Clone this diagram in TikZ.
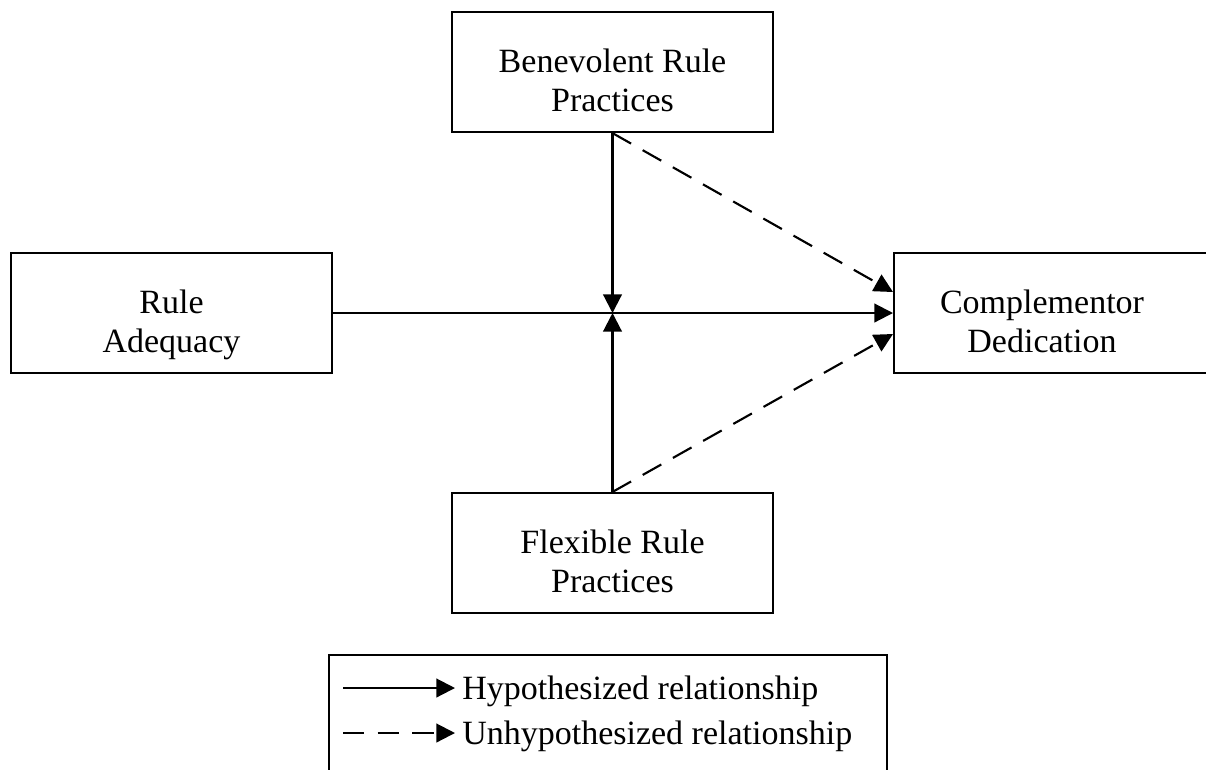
\documentclass[tikz,border=0pt]{standalone}
\usepackage{fontspec}
\setmainfont{Liberation Serif}
\usetikzlibrary{arrows.meta}
% two-line box text, set slightly below the box centre (extra room above)
\newcommand\boxlines[1]{\raisebox{0pt}[\dimexpr\height+18pt\relax][\depth]{\begin{tabular}{@{}c@{}}#1\end{tabular}}}
\tikzset{
  box/.style={draw, line width=1.6pt, rectangle, minimum width=240.75pt, minimum height=90pt,
    align=center, inner sep=0pt, font=\fontsize{25.5}{29.5}\selectfont},
  txt/.style={align=center, inner sep=0pt, font=\fontsize{25.5}{29.5}\selectfont},
  link/.style={line width=1.6pt, -{Triangle[length=14pt,width=14pt]}},
  dashlink/.style={link, dash pattern=on 16pt off 10pt},
}
\begin{document}
\begin{tikzpicture}[x=0.75pt,y=-0.75pt]
\useasboundingbox (0,0) rectangle (1206,769);
\clip (0,0) rectangle (1206,769);
% constructs
\node[box] (ben) at (612.5,72) {\boxlines{Benevolent Rule\\Practices}};
\node[box] (flex) at (612.5,553) {\boxlines{Flexible Rule\\Practices}};
\node[box] (ra) at (171.5,313) {\boxlines{Rule\\Adequacy}};
\node[box, minimum width=252.75pt, anchor=west] (comp) at (893,313) {};
\node[txt] (comptext) at (1042,313) {\boxlines{Complementor\\Dedication}};
\coordinate (mid) at (ben.south |- ra.east);
% hypothesized paths
\draw[link] (ra.east) -- (comp.west);
\draw[link] (ben.south) -- (mid);
\draw[link] (flex.north) -- (mid);
% unhypothesized paths
\draw[dashlink] (ben.south) -- ([yshift=15.75pt]comp.west);
\draw[dashlink] (flex.north) -- ([yshift=-15.75pt]comp.west);
% legend
\node[draw, line width=1.6pt, minimum width=418.5pt, minimum height=105pt, anchor=north west, inner sep=0pt] (legend) at (328,654) {};
\coordinate (l1a) at (343,688);
\coordinate (l1b) at (455,688);
\coordinate (l2a) at (343,733);
\coordinate (l2b) at (455,733);
\draw[link] (l1a) -- (l1b);
\draw[dashlink] (l2a) -- (l2b);
\node[txt, anchor=west] (lt1) at (462,691) {Hypothesized relationship};
\node[txt, anchor=west] (lt2) at (462,736) {Unhypothesized relationship};
\end{tikzpicture}
\end{document}
